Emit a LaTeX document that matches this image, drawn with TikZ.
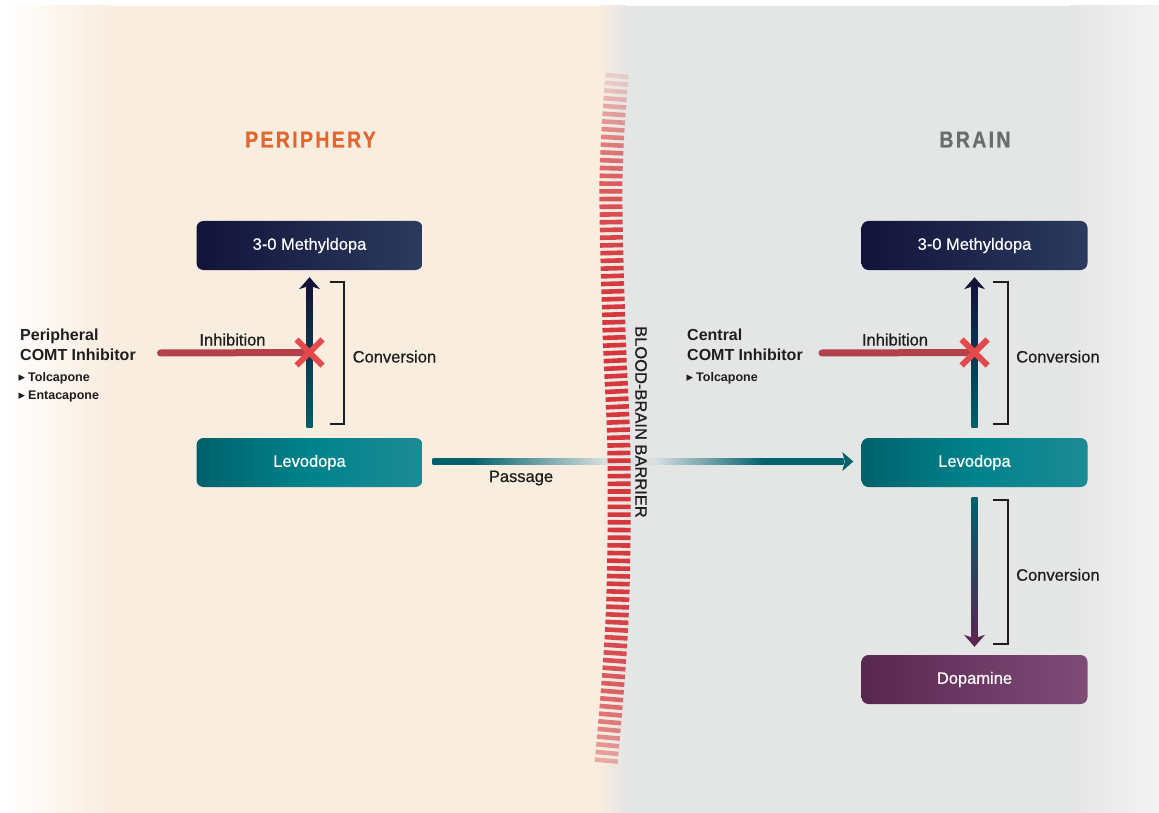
\documentclass[tikz,border=0pt]{standalone}
\usepackage{fontspec}
\setmainfont{Liberation Sans}
\newfontfamily\medfont[FakeBold=0.7]{Liberation Sans}
\newfontfamily\boxfont[FakeBold=0.4]{Liberation Sans}
\newfontfamily\ttlfont[FakeStretch=0.85,LetterSpace=10,FakeBold=0.6]{Liberation Sans}
\newfontfamily\symfont{DejaVu Sans}
\usetikzlibrary{calc,decorations.markings}
\definecolor{peach}{HTML}{F9EDDF}
\definecolor{greyB}{HTML}{E4E5E5}
\definecolor{greyR}{HTML}{F3F3F3}
\definecolor{navyL}{HTML}{13133A}
\definecolor{navyR}{HTML}{2B3A5E}
\definecolor{tealL}{HTML}{00616C}
\definecolor{tealM}{HTML}{00838B}
\definecolor{tealR}{HTML}{1C8A94}
\definecolor{tealD}{HTML}{00606B}
\definecolor{purpL}{HTML}{582750}
\definecolor{purpR}{HTML}{7F4C78}
\definecolor{inhred}{HTML}{B4414A}
\definecolor{xred}{HTML}{E4494B}
\definecolor{bbred}{HTML}{D5373D}
\definecolor{ttlorange}{HTML}{E1672C}
\definecolor{ttlgrey}{HTML}{6B6C6C}
\definecolor{ink}{HTML}{1E1E1E}
\definecolor{passlight}{HTML}{D9DFE0}
\pgfdeclarehorizontalshading{passshade}{100bp}{color(0bp)=(tealD); color(29.6bp)=(tealD); color(46bp)=(passlight); color(52bp)=(passlight); color(65.5bp)=(tealD); color(100bp)=(tealD)}
\tikzset{
  box/.style={rounded corners=7pt, minimum width=226pt, minimum height=49pt, inner sep=0pt, text=white, font=\boxfont\fontsize{16.5}{18}\selectfont},
  navybox/.style={box, left color=navyL, right color=navyR},
  tealbox/.style={box, left color=tealL, right color=tealR, middle color=tealM},
  purpbox/.style={box, left color=purpL, right color=purpR},
  lbl/.style={text=ink, font=\medfont\fontsize{16.5}{18}\selectfont, inner sep=0pt},
  inhlbl/.style={text=ink, font=\bfseries\fontsize{16}{18}\selectfont, inner sep=0pt, anchor=base west},
  druglbl/.style={text=ink, font=\bfseries\fontsize{12.5}{14}\selectfont, inner sep=0pt, anchor=base west},
  inhline/.style={draw=inhred, line width=7pt, line cap=round},
  xmark/.style={draw=xred, line width=6pt},
  bracket/.style={draw=ink, line width=1.5pt},
  ttl/.style={font=\ttlfont\bfseries\fontsize{23}{26}\selectfont, inner sep=0pt, anchor=base},
  barrierbars/.style={decoration={markings,
    mark=between positions 2pt and 1 step 7.7pt with {
      \pgfmathsetmacro\dd{\pgfkeysvalueof{/pgf/decoration/mark info/distance from start}}
      \pgfmathsetmacro\op{max(0.15, 1-0.78*(abs(\dd-360)/345)^4)}
      \fill[bbred, opacity=\op] (-2.3,-11.5) rectangle (2.3,11.5);
    }}, decorate},
}
\newcommand{\bul}{\makebox[9.5pt][l]{\symfont\fontsize{13}{13}\selectfont ▸}}
\begin{document}
\begin{tikzpicture}[x=1pt,y=-1pt]
\useasboundingbox (0,0) rectangle (1159,813);
% background
\fill[white] (0,0) rectangle (1159,813);
\shade[left color=white, right color=peach] (4,6) rectangle (110,813);
\fill[peach] (109.5,6) rectangle (600,813);
\shade[left color=peach, right color=greyB] (599.5,6) rectangle (626,813);
\fill[greyB] (625.5,6) rectangle (1070,813);
\shade[left color=greyB, right color=greyR] (1069.5,6) rectangle (1159,813);

% titles
\node[ttl, text=ttlorange] (tper) at (310.5,147.5) {PERIPHERY};
\node[ttl, text=ttlgrey] (tbrain) at (975,147.5) {BRAIN};

% boxes
\node[navybox] (met1) at (309.5,245.5) {3-0 Methyldopa};
\node[tealbox] (lev1) at (309.5,462.5) {Levodopa};
\node[navybox] (met2) at (974.5,245.5) {3-0 Methyldopa};
\node[tealbox] (lev2) at (974.5,462.5) {Levodopa};
\node[purpbox] (dop) at (974.5,679.5) {Dopamine};

% ---------- left conversion arrow ----------
\coordinate (a1b) at ($(lev1.north)+(0,-10)$);
\coordinate (a1t) at ($(met1.south)+(0,7)$);
\shade[top color=navyL, bottom color=tealD] ($(a1t)+(-3,9)$) rectangle ($(a1b)+(3,0)$);
\fill[navyL] (a1t) -- ++(10.5,12) -- ++(-10.5,-3.5) -- ++(-10.5,3.5) -- cycle;
\coordinate (x1c) at ($(a1t)!0.5!(a1b)$);
\draw[bracket] ($(a1t)+(20,5)$) -- ++(14.5,0) |- ($(a1b)+(20,-4)$);
\node[lbl, anchor=base west] (conv1) at ($(x1c)+(43,10)$) {Conversion};

% left inhibitor
\node[inhlbl] (per1) at (20,340) {Peripheral};
\node[inhlbl] (comt1) at (20,360) {COMT Inhibitor};
\node[druglbl] (tol1) at (18.5,381.5) {\bul Tolcapone};
\node[druglbl] (ent1) at (18.5,399.5) {\bul Entacapone};
\coordinate (inh1s) at (160.5,353);
\draw[inhline] (inh1s) -- (x1c);
\draw[xmark] ($(x1c)+(-13,-13)$) -- ($(x1c)+(13,13)$);
\draw[xmark] ($(x1c)+(-13,13)$) -- ($(x1c)+(13,-13)$);
\node[lbl, anchor=base] (inhl1) at (232.5,345.5) {Inhibition};

% ---------- right conversion arrow (up) ----------
\coordinate (a2b) at ($(lev2.north)+(0,-10)$);
\coordinate (a2t) at ($(met2.south)+(0,7)$);
\shade[top color=navyL, bottom color=tealD] ($(a2t)+(-3,9)$) rectangle ($(a2b)+(3,0)$);
\fill[navyL] (a2t) -- ++(10.5,12) -- ++(-10.5,-3.5) -- ++(-10.5,3.5) -- cycle;
\coordinate (x2c) at ($(a2t)!0.5!(a2b)$);
\draw[bracket] ($(a2t)+(18,5)$) -- ++(15.5,0) |- ($(a2b)+(18,-4)$);
\node[lbl, anchor=base west] (conv2) at ($(x2c)+(41.5,10)$) {Conversion};

% right inhibitor
\node[inhlbl] (cen2) at (687,340) {Central};
\node[inhlbl] (comt2) at (687,360) {COMT Inhibitor};
\node[druglbl] (tol2) at (686.5,381.5) {\bul Tolcapone};
\coordinate (inh2s) at (822,353);
\draw[inhline] (inh2s) -- (x2c);
\draw[xmark] ($(x2c)+(-13,-13)$) -- ($(x2c)+(13,13)$);
\draw[xmark] ($(x2c)+(-13,13)$) -- ($(x2c)+(13,-13)$);
\node[lbl, anchor=base] (inhl2) at (895,345.5) {Inhibition};

% ---------- lower conversion arrow (down) ----------
\coordinate (a3t) at ($(lev2.south)+(0,10)$);
\coordinate (a3b) at ($(dop.north)+(0,-8)$);
\shade[top color=tealD, bottom color=purpL] ($(a3t)+(-3,0)$) rectangle ($(a3b)+(3,-9)$);
\fill[purpL] (a3b) -- ++(10.5,-12) -- ++(-10.5,3.5) -- ++(-10.5,-3.5) -- cycle;
\draw[bracket] ($(a3t)+(18,3)$) -- ++(15.5,0) |- ($(a3b)+(18,-3)$);
\node[lbl, anchor=base west] (conv3) at ($(a3t)+(41.5,83.5)$) {Conversion};

% ---------- passage arrow ----------
\coordinate (ps) at ($(lev1.east)+(10,-1)$);
\coordinate (pe) at ($(lev2.west)+(-8,-1)$);
\shade[shading=passshade] ($(ps)+(0,-3)$) rectangle ($(pe)+(-10,3)$);
\fill[tealD] (pe) -- ++(-11,-9.5) -- ++(2.5,9.5) -- ++(-2.5,9.5) -- cycle;
\node[lbl, anchor=base] (pass) at (521,482) {Passage};

% ---------- blood-brain barrier ----------
\path[barrierbars] plot[smooth, tension=0.6] coordinates {(617,74) (611,180) (614,330) (619,460) (617,620) (606,764)};
\node[lbl, rotate=-90] (bbb) at (641,422) {BLOOD-BRAIN BARRIER};
\end{tikzpicture}
\end{document}
